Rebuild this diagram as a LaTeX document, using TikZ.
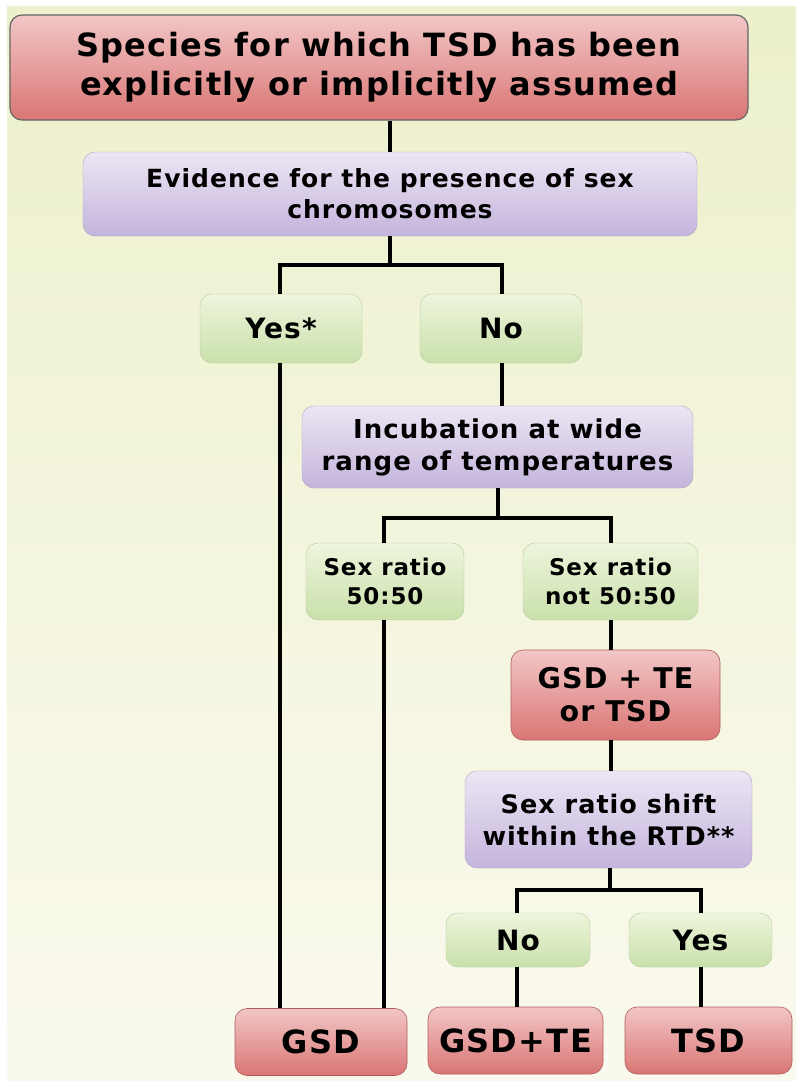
\documentclass[tikz,border=0pt]{standalone}
\usepackage{fontspec}
\setmainfont{DejaVu Sans}[LetterSpace=4]
\usepackage{tikz}

\definecolor{bgtop}{HTML}{EDF0CC}
\definecolor{bgbot}{HTML}{FAF9EE}
\definecolor{redtop}{HTML}{F2C6C6}
\definecolor{redbot}{HTML}{D97674}
\definecolor{purtop}{HTML}{ECE6F4}
\definecolor{purbot}{HTML}{C4B4DC}
\definecolor{grntop}{HTML}{EEF5DC}
\definecolor{grnbot}{HTML}{C9E0AB}

\tikzset{
  box/.style={rounded corners=12pt, inner sep=0pt, align=center,
    text=black, font=\bfseries},
  redbox/.style={box, top color=redtop, bottom color=redbot, draw=redbot!80!black, line width=0.6pt},
  purbox/.style={box, top color=purtop, bottom color=purbot, draw=purbot!90!black, line width=0.4pt},
  grnbox/.style={box, top color=grntop, bottom color=grnbot, draw=grnbot!90!black, line width=0.4pt},
  link/.style={line width=4pt, black}
}

\begin{document}
\begin{tikzpicture}[x=1pt, y=-1pt]
 \useasboundingbox (0,0) rectangle (796,1081);
 \shade[top color=bgtop, bottom color=bgbot] (7,7) rectangle (796,1081);
 % question and outcome boxes
 \node[redbox, draw=black!60, line width=1.2pt, minimum width=738pt, minimum height=105pt,
   font=\fontsize{32}{39}\selectfont\bfseries] (title) at (379,67.5)
   {Species for which TSD has been\\explicitly or implicitly assumed};
 \node[purbox, minimum width=614pt, minimum height=84pt,
   font=\fontsize{25}{31}\selectfont\bfseries] (evid) at (390,194)
   {Evidence for the presence of sex\\chromosomes};
 \begin{scope}[every node/.style={grnbox, minimum width=162pt, minimum height=69pt,
   font=\fontsize{28}{30}\selectfont\bfseries}]
  \node (yes1) at (281,328.5) {Yes*};
  \node (no1) at (501,328.5) {No};
 \end{scope}
 \node[purbox, minimum width=391pt, minimum height=82pt,
   font=\fontsize{26}{32}\selectfont\bfseries] (incub) at (497.5,447)
   {Incubation at wide\\range of temperatures};
 \begin{scope}[every node/.style={grnbox, minimum height=77pt,
   font=\fontsize{23}{29}\selectfont\bfseries}]
  \node[minimum width=158pt] (r5050) at (385,581.5) {Sex ratio\\50:50};
  \node[minimum width=175pt] (rnot) at (610.5,581.5) {Sex ratio\\not 50:50};
 \end{scope}
 \node[redbox, minimum width=209pt, minimum height=90pt,
   font=\fontsize{28.5}{33}\selectfont\bfseries] (gsdtsd) at (615.5,695)
   {GSD + TE\\or TSD};
 \node[purbox, minimum width=287pt, minimum height=97pt,
   font=\fontsize{25.5}{32}\selectfont\bfseries] (shift) at (608.5,819.5)
   {Sex ratio shift\\within the RTD**};
 \begin{scope}[every node/.style={grnbox, minimum height=54pt,
   font=\fontsize{28}{30}\selectfont\bfseries}]
  \node[minimum width=144pt] (no2) at (518,940) {No};
  \node[minimum width=143pt] (yes2) at (700.5,940) {Yes};
 \end{scope}
 \begin{scope}[every node/.style={redbox, minimum height=67pt,
   font=\fontsize{32}{34}\selectfont\bfseries}]
  \node[minimum width=172pt] (gsd) at (321,1042) {GSD};
  \node[minimum width=175pt] (gsdte) at (515.5,1040.5) {GSD+TE};
  \node[minimum width=167pt] (tsd) at (708.5,1040.5) {TSD};
 \end{scope}
 % junctions
 \coordinate (j1) at (390,265);
 \coordinate (j2) at (498,518);
 \coordinate (j3) at (610,890);
 % connectors
 \draw[link] (evid.north) -- (evid.north |- title.south);
 \draw[link] (evid.south) -- (j1);
 \draw[link] (j1) -| ([xshift=-1pt]yes1.north);
 \draw[link] (j1) -| ([xshift=1pt]no1.north);
 \draw[link] ([xshift=-1pt]yes1.south) -- ([xshift=-1pt]yes1.south |- gsd.north);
 \draw[link] ([xshift=1pt]no1.south) -- ([xshift=1pt]no1.south |- incub.north);
 \draw[link] (incub.south) ++(0.5,0) -- (j2);
 \draw[link] (j2) -| ([xshift=-1pt]r5050.north);
 \draw[link] (j2) -| (rnot.north);
 \draw[link] ([xshift=-1pt]r5050.south) -- ([xshift=-1pt]r5050.south |- gsd.north);
 \draw[link] (rnot.south) -- (rnot.south |- gsdtsd.north);
 \draw[link] (gsdtsd.south -| rnot) -- (rnot |- shift.north);
 \draw[link] (shift.south -| j3) -- (j3);
 \draw[link] (j3) -| ([xshift=-1pt]no2.north);
 \draw[link] (j3) -| (yes2.north);
 \draw[link] ([xshift=-1pt]no2.south) -- ([xshift=-1pt]no2.south |- gsdte.north);
 \draw[link] (yes2.south) -- (yes2.south |- tsd.north);
\end{tikzpicture}
\end{document}
